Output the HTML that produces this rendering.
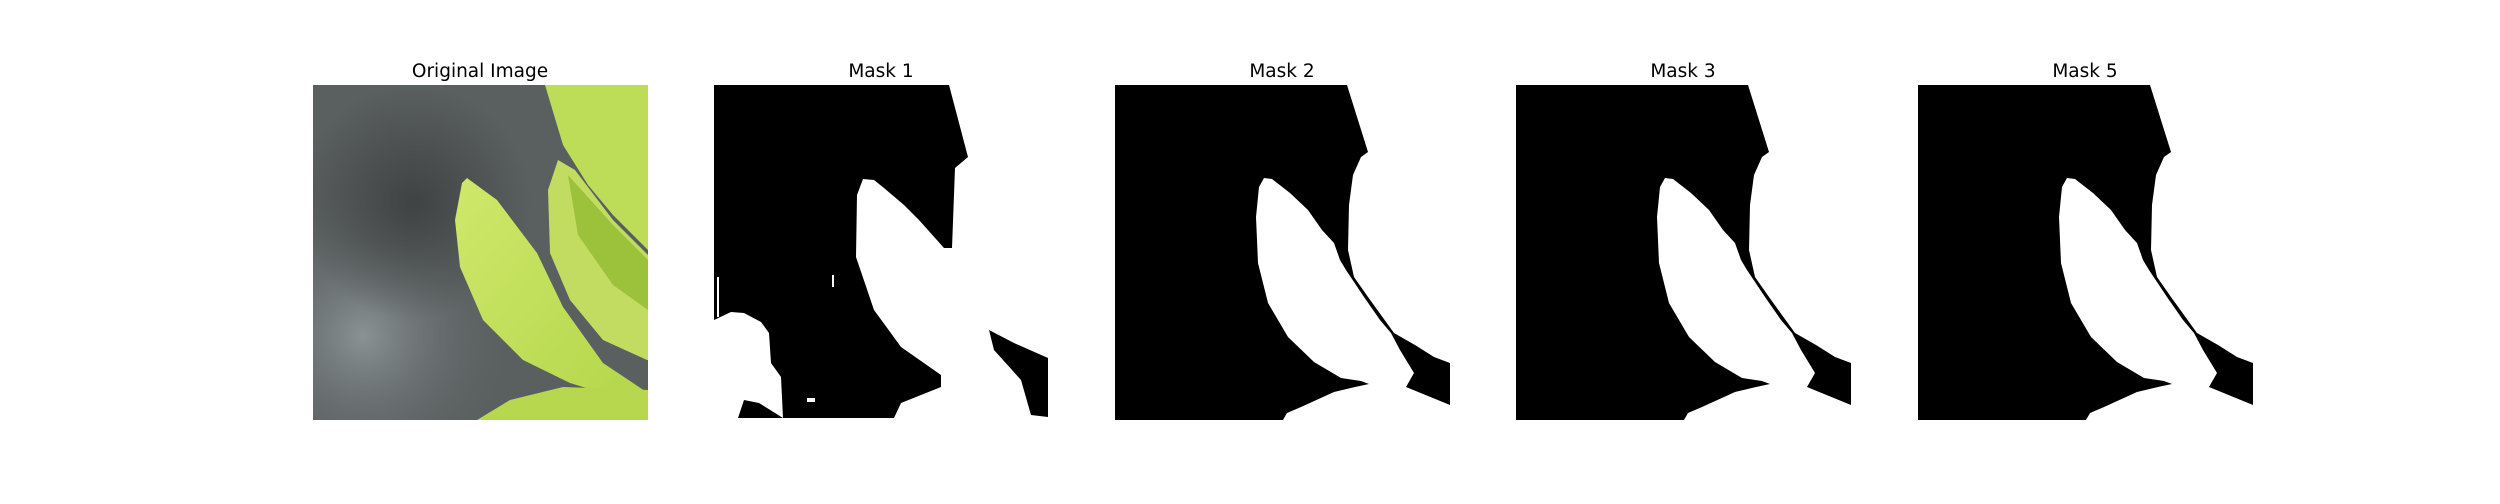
<!DOCTYPE html>
<html><head><meta charset="utf-8"><style>
html,body{margin:0;padding:0;background:#fff;}
body{width:2500px;height:500px;position:relative;overflow:hidden;font-family:"DejaVu Sans","Liberation Sans",sans-serif;}
</style></head><body>
<svg width="2500" height="500" viewBox="0 0 2500 500">
<defs>
<radialGradient id="bgA" cx="0.15" cy="0.75" r="0.5"><stop offset="0" stop-color="#8a9294"/><stop offset="1" stop-color="#555a5b" stop-opacity="0"/></radialGradient>
<radialGradient id="bgB" cx="0.3" cy="0.35" r="0.35"><stop offset="0" stop-color="#3f4343"/><stop offset="1" stop-color="#3f4343" stop-opacity="0"/></radialGradient>
<linearGradient id="leafG" x1="0" y1="0" x2="1" y2="1"><stop offset="0" stop-color="#cfe86a"/><stop offset="1" stop-color="#b3d64a"/></linearGradient>
<g id="maskShapes">
  <rect x="0" y="0" width="335" height="335" fill="#000"/>
  <path d="M232,0 L253,67 L246,72 L238,90 L234,120 L233,165 L239,192 L253,212 L279,248 L300,260 L319,272 L335,278 L335,0 Z" fill="#fff"/>
  <path d="M149,93 L157,94 L175,108 L193,125 L207,145 L219,158 L225,175 L231,185 L241,200 L249,212 L265,235 L276,248 L285,265 L299,288 L291,302 L335,320 L335,335 L168,335 L172,328 L186,322 L219,307 L240,302 L254,299 L246,296 L226,293 L199,277 L173,252 L153,218 L143,178 L141,132 L144,102 Z" fill="#fff"/>
</g>
</defs>

<!-- Original image -->
<g transform="translate(313,85)">
  <rect width="335" height="335" fill="#5a5f60"/>
  <rect width="335" height="335" fill="url(#bgA)"/>
  <rect width="335" height="335" fill="url(#bgB)"/>
  <path d="M232,0 L250,60 L275,100 L300,130 L335,165 L335,0 Z" fill="#bddd58"/>
  <path d="M245,75 L235,105 L237,168 L257,215 L290,255 L334,275 L335,275 L335,170 L300,135 L262,85 Z" fill="#c2dc62"/>
  <path d="M255,90 L300,140 L335,175 L335,225 L300,200 L265,150 Z" fill="#9cc13a"/>
  <path d="M154,93 L184,115 L224,168 L250,222 L290,278 L335,308 L335,322 L257,298 L210,275 L170,235 L147,182 L142,135 L149,98 Z" fill="url(#leafG)"/>
  <path d="M164,335 L197,315 L250,302 L335,305 L335,335 Z" fill="#b7d84e"/>
</g>
<text x="480" y="77" font-size="18.5" text-anchor="middle" fill="#000">Original Image</text>

<!-- Mask 1 -->
<g transform="translate(714,85)">
  <rect width="335" height="335" fill="#fff"/>
  <path d="M0,0 L235,0 L254,72 L241,83 L238,163 L230,163 L205,135 L190,120 L170,103 L160,95 L149,94 L143,110 L142,172 L160,225 L187,262 L227,290 L227,302 L187,318 L180,333 L69,333 L67,292 L57,278 L55,248 L47,237 L30,228 L17,227 L0,235 Z" fill="#000"/>
  <path d="M275,245 L300,258 L334,273 L334,332 L317,330 L307,295 L280,265 Z" fill="#000"/>
  <path d="M24,333 L30,315 L45,318 L69,333 Z" fill="#000"/>
  <rect x="3" y="192" width="2" height="40" fill="#fff"/>
  <rect x="118" y="190" width="2" height="12" fill="#fff"/>
  <rect x="93" y="313" width="8" height="4" fill="#fff"/>
</g>
<text x="881" y="77" font-size="18.5" text-anchor="middle" fill="#000">Mask 1</text>

<g transform="translate(1115,85)"><use href="#maskShapes"/></g>
<text x="1282" y="77" font-size="18.5" text-anchor="middle" fill="#000">Mask 2</text>

<g transform="translate(1516,85)"><use href="#maskShapes"/></g>
<text x="1683" y="77" font-size="18.5" text-anchor="middle" fill="#000">Mask 3</text>

<g transform="translate(1918,85)"><use href="#maskShapes"/></g>
<text x="2085" y="77" font-size="18.5" text-anchor="middle" fill="#000">Mask 5</text>
</svg>
</body></html>
